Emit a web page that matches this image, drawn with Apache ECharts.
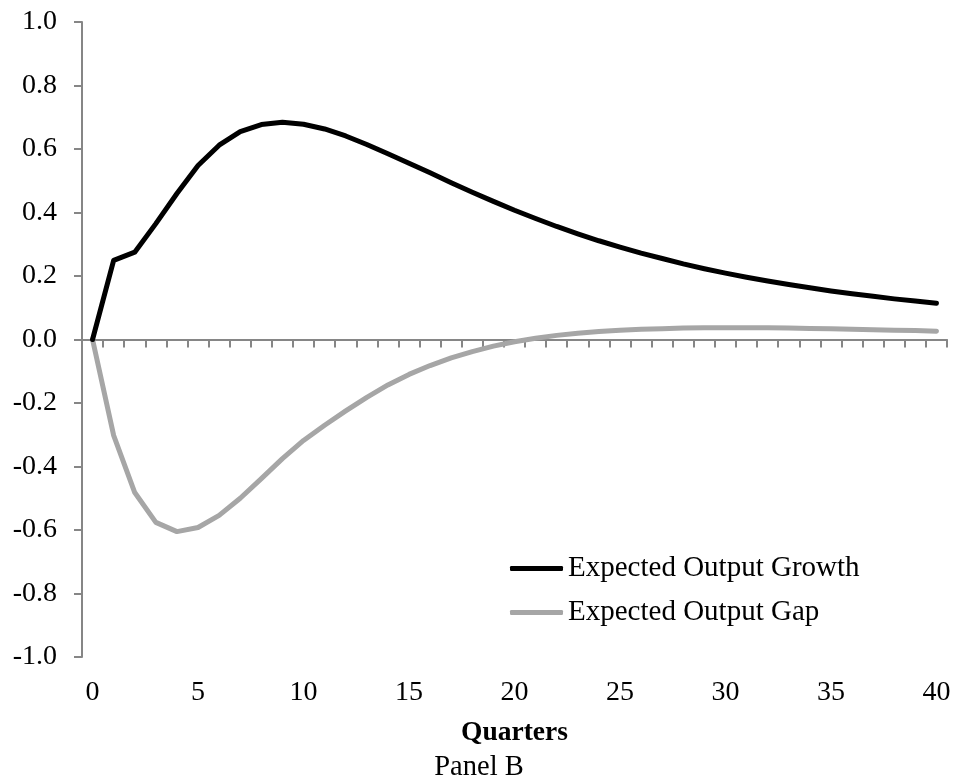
<!DOCTYPE html>
<html>
<head>
<meta charset="utf-8">
<script src="https://cdn.jsdelivr.net/npm/echarts@6/dist/echarts.min.js"></script>
<style>html,body{margin:0;padding:0;background:#fff}#c{width:958px;height:780px}</style>
</head>
<body>
<div id="c"></div>
<script>
var quarters = [];
for (var q = 0; q <= 40; q++) quarters.push(String(q));

var expectedOutputGrowth = [0, 0.249, 0.275, 0.365, 0.46, 0.548, 0.612, 0.655, 0.677, 0.684,
  0.678, 0.663, 0.641, 0.614, 0.585, 0.555, 0.525, 0.494, 0.464, 0.435,
  0.407, 0.381, 0.356, 0.333, 0.311, 0.291, 0.272, 0.255, 0.238, 0.223,
  0.209, 0.196, 0.184, 0.173, 0.163, 0.153, 0.144, 0.136, 0.128, 0.121, 0.114];

var expectedOutputGap = [0, -0.302, -0.482, -0.576, -0.605, -0.592, -0.554, -0.50, -0.438, -0.375,
  -0.318, -0.27, -0.225, -0.182, -0.143, -0.110, -0.082, -0.058, -0.038, -0.021,
  -0.007, 0.004, 0.013, 0.020, 0.025, 0.029, 0.032, 0.034, 0.036, 0.037,
  0.037, 0.037, 0.037, 0.036, 0.035, 0.034, 0.032, 0.031, 0.029, 0.028, 0.026];

var seriesNames = ['Expected Output Growth', 'Expected Output Gap'];
var FONT = '"Liberation Serif", "Times New Roman", serif';
var AXIS = '#868686';

var chart = echarts.init(document.getElementById('c'), null, {renderer: 'canvas'});
chart.setOption({
  animation: false,
  backgroundColor: '#fff',
  textStyle: {fontFamily: FONT},
  title: {
    text: 'Panel B', left: 'center', bottom: -2, padding: 0,
    textStyle: {fontFamily: FONT, fontSize: 28.5, fontWeight: 'normal', color: '#000'}
  },
  grid: {left: 82, right: 11, top: 22, bottom: 123, containLabel: false},
  legend: {
    orient: 'vertical', left: 510, top: 554, padding: 0,
    itemWidth: 53, itemHeight: 5, itemGap: 15, icon: 'roundRect',
    textStyle: {fontFamily: FONT, fontSize: 29, color: '#000'},
    data: seriesNames
  },
  xAxis: [{
    type: 'category', data: quarters, boundaryGap: true,
    axisLine: {onZero: true, lineStyle: {color: AXIS, width: 2}},
    axisTick: {show: true, interval: 0, length: 8, lineStyle: {color: AXIS, width: 2}},
    axisLabel: {show: false},
    splitLine: {show: false}
  }, {
    type: 'category', data: quarters, boundaryGap: true, position: 'bottom',
    axisLine: {show: false, onZero: false}, axisTick: {show: false},
    axisLabel: {show: true, interval: 4, margin: 22, fontFamily: FONT, fontSize: 28, color: '#000'},
    name: 'Quarters', nameLocation: 'middle', nameGap: 62,
    nameTextStyle: {fontFamily: FONT, fontSize: 27.5, fontWeight: 'bold', color: '#000'}
  }],
  yAxis: {
    type: 'value', min: -1, max: 1, interval: 0.2,
    axisLine: {show: true, lineStyle: {color: AXIS, width: 2}},
    axisTick: {show: true, length: 8, lineStyle: {color: AXIS, width: 2}},
    axisLabel: {margin: 25, fontFamily: FONT, fontSize: 28, color: '#000',
      formatter: function (v) { return v.toFixed(1); }},
    splitLine: {show: false}
  },
  series: [{
    name: seriesNames[0], type: 'line', data: expectedOutputGrowth, xAxisIndex: 0,
    symbol: 'none', smooth: false, z: 3,
    lineStyle: {color: '#000', width: 5, cap: 'round', join: 'round'},
    itemStyle: {color: '#000'}
  }, {
    name: seriesNames[1], type: 'line', data: expectedOutputGap, xAxisIndex: 0,
    symbol: 'none', smooth: false, z: 2,
    lineStyle: {color: '#a6a6a6', width: 5, cap: 'round', join: 'round'},
    itemStyle: {color: '#a6a6a6'}
  }]
});
</script>
</body>
</html>
